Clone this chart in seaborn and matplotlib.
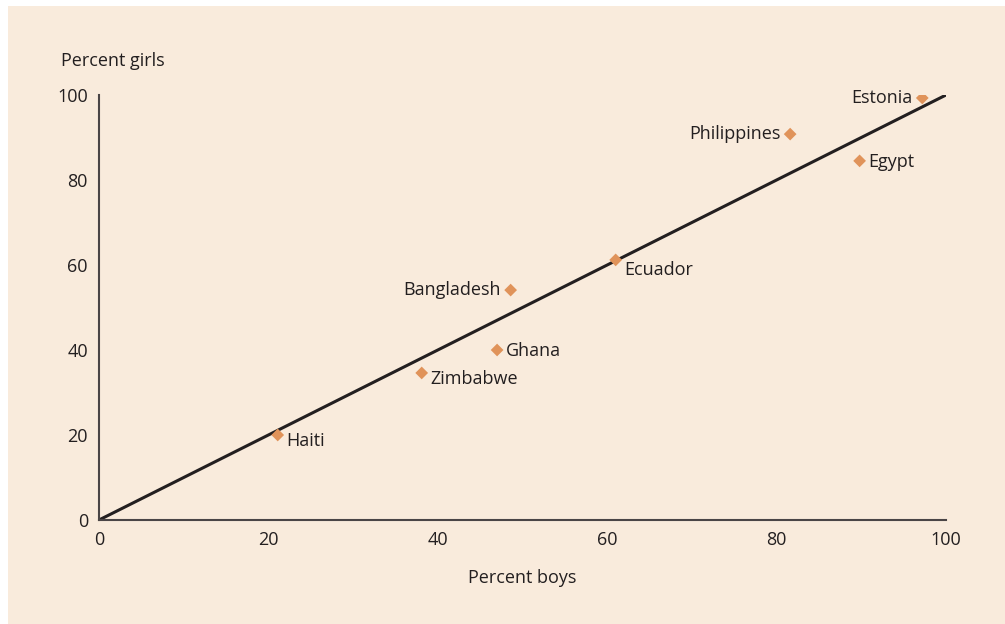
import matplotlib
matplotlib.use("Agg")
import matplotlib.pyplot as plt
import seaborn as sns
import pandas as pd
from matplotlib.patches import Rectangle

# datos
countries = ["Haiti", "Zimbabwe", "Ghana", "Bangladesh", "Ecuador", "Philippines", "Egypt", "Estonia"]
boys = [21.1, 38.1, 47.0, 48.6, 61.0, 81.6, 89.8, 97.2]
girls = [20.0, 34.6, 40.0, 54.1, 61.2, 90.8, 84.5, 99.3]
label_side = ["right", "right", "right", "left", "right", "left", "right", "left"]
label_dy = [-4, -4, -1, 0, -7, 0, -1, 0]  # desplazamiento vertical de etiquetas (pt)
ticks = [0, 20, 40, 60, 80, 100]

df = pd.DataFrame({"country": countries, "boys": boys, "girls": girls,
                   "side": label_side, "dy": label_dy})

sns.set_style("white")
plt.rcParams["font.family"] = ["Open Sans", "DejaVu Sans"]

bg = "#F9EBDC"
txt = "#231F20"
fs = 13

fig = plt.figure(figsize=(10.05, 6.24), dpi=100, facecolor="white")
fondo = Rectangle((8 / 1005, 0), 1 - 8 / 1005, 1 - 6 / 624,
                  transform=fig.transFigure, facecolor=bg, edgecolor="none", zorder=-10)
fig.add_artist(fondo)
ax = fig.add_axes([99 / 1005, 104 / 624, 847 / 1005, 425 / 624])
ax.set_zorder(1)
ax.set_facecolor("none")

# linea de igualdad
ax.plot([0, 100], [0, 100], color=txt, lw=2.2, zorder=2)

sns.scatterplot(data=df, x="boys", y="girls", marker="D", s=42, color="#E0935A",
                edgecolor="none", ax=ax, zorder=3)

for _, r in df.iterrows():
    if r["side"] == "right":
        ax.annotate(r["country"], (r["boys"], r["girls"]), xytext=(6, r["dy"]), textcoords="offset points",
                    ha="left", va="center", fontsize=fs, color=txt)
    else:
        ax.annotate(r["country"], (r["boys"], r["girls"]), xytext=(-7, r["dy"]), textcoords="offset points",
                    ha="right", va="center", fontsize=fs, color=txt)

ax.set_xlim(0, 100)
ax.set_ylim(0, 100)
ax.set_xticks(ticks)
ax.set_yticks(ticks)
ax.tick_params(direction="in", length=6, width=1.2, color=txt, labelcolor=txt, labelsize=fs, pad=8)
for s in ["top", "right"]:
    ax.spines[s].set_visible(False)
for s in ["left", "bottom"]:
    ax.spines[s].set_color("#4a4546")
    ax.spines[s].set_linewidth(1.5)

ax.set_xlabel("Percent boys", fontsize=fs, color=txt, labelpad=14)
ax.set_ylabel("")
ax.text(0.0165, 1.06, "Percent girls", transform=ax.transAxes, fontsize=fs, color=txt,
        ha="center", va="bottom")

fig.savefig("out.png", dpi=100, facecolor=fig.get_facecolor())
